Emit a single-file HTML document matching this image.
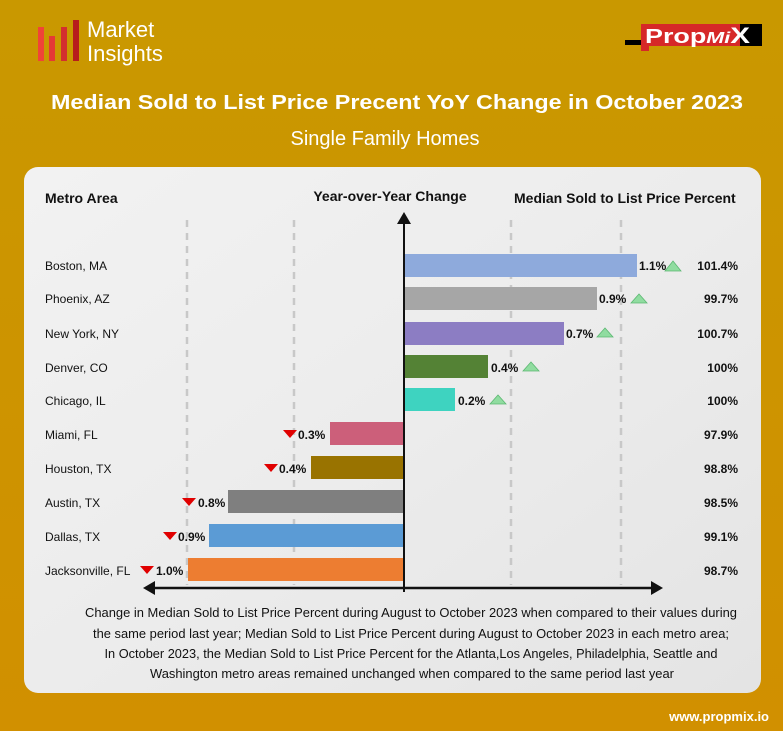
<!DOCTYPE html>
<html><head><meta charset="utf-8"><style>
html,body{margin:0;padding:0;width:783px;height:731px;overflow:hidden;background:#cc9500}
svg{display:block}
text{font-family:"Liberation Sans",sans-serif}
</style></head><body>
<svg width="783" height="731" viewBox="0 0 783 731" xmlns="http://www.w3.org/2000/svg">
<defs>
<linearGradient id="bg" x1="0" y1="0" x2="0" y2="1"><stop offset="0" stop-color="#c99800"/><stop offset="1" stop-color="#d19000"/></linearGradient>
<linearGradient id="card" x1="0" y1="0" x2="1" y2="1"><stop offset="0" stop-color="#f2f2f2"/><stop offset="0.5" stop-color="#ececec"/><stop offset="1" stop-color="#e4e4e4"/></linearGradient>
</defs>
<rect width="783" height="731" fill="url(#bg)"/>
<!-- logo -->
<rect x="38" y="27" width="6" height="34" fill="#f04438"/>
<rect x="49" y="36" width="6" height="25" fill="#e53935"/>
<rect x="61" y="27" width="6" height="34" fill="#d32f2f"/>
<rect x="73" y="20" width="6" height="41" fill="#b71c1c"/>
<text x="87" y="37" font-size="22" fill="#fff">Market</text>
<text x="87" y="61" font-size="22" fill="#fff">Insights</text>
<rect x="641" y="24" width="104" height="22" fill="#d62828"/>
<rect x="740" y="24" width="22" height="22" fill="#000"/>
<rect x="625" y="40" width="16" height="5" fill="#000"/>
<rect x="641" y="46" width="8" height="5" fill="#d62828"/>
<text x="645" y="43" font-size="20" font-weight="bold" fill="#fff" textLength="105" lengthAdjust="spacingAndGlyphs">Prop<tspan font-style="italic" font-size="16">Mi</tspan><tspan font-size="22">X</tspan></text>
<text x="397" y="109" font-size="20" font-weight="bold" fill="#fff" text-anchor="middle" textLength="692" lengthAdjust="spacingAndGlyphs">Median Sold to List Price Precent YoY Change in October 2023</text>
<text x="385" y="145" font-size="20" fill="#fff" text-anchor="middle">Single Family Homes</text>
<!-- card -->
<rect x="24" y="167" width="737" height="526" rx="14" fill="url(#card)"/>
<g font-weight="bold" fill="#111">
<text x="45" y="203" font-size="14">Metro Area</text>
<text x="390" y="201" font-size="14" text-anchor="middle">Year-over-Year Change</text>
<text x="514" y="203" font-size="14">Median Sold to List Price Percent</text>
</g>
<g stroke="#c8c8c8" stroke-width="2.5" stroke-dasharray="7,6">
<line x1="187" y1="220" x2="187" y2="585"/><line x1="294" y1="220" x2="294" y2="585"/>
<line x1="511" y1="220" x2="511" y2="585"/><line x1="621" y1="220" x2="621" y2="585"/>
</g>
<!-- bars -->
<rect x="404" y="254" width="233" height="23" fill="#8eaadc"/>
<rect x="404" y="287" width="193" height="23" fill="#a6a6a6"/>
<rect x="404" y="322" width="160" height="23" fill="#8c7dc3"/>
<rect x="404" y="355" width="84" height="23" fill="#548235"/>
<rect x="404" y="388" width="51" height="23" fill="#3ed3c0"/>
<rect x="330" y="422" width="74" height="23" fill="#cc5f7a"/>
<rect x="311" y="456" width="93" height="23" fill="#997300"/>
<rect x="228" y="490" width="176" height="23" fill="#7f7f7f"/>
<rect x="209" y="524" width="195" height="23" fill="#5b9bd5"/>
<rect x="188" y="558" width="216" height="23" fill="#ed7d31"/>
<!-- axes -->
<line x1="404" y1="222" x2="404" y2="592" stroke="#111" stroke-width="2"/>
<polygon points="404,212 397,224 411,224" fill="#111"/>
<line x1="150" y1="588" x2="655" y2="588" stroke="#111" stroke-width="2.5"/>
<polygon points="143,588 155,581 155,595" fill="#111"/>
<polygon points="663,588 651,581 651,595" fill="#111"/>
<!-- labels -->
<g font-size="12" fill="#111">
<text x="45" y="270">Boston, MA</text>
<text x="45" y="303">Phoenix, AZ</text>
<text x="45" y="338">New York, NY</text>
<text x="45" y="372">Denver, CO</text>
<text x="45" y="405">Chicago, IL</text>
<text x="45" y="439">Miami, FL</text>
<text x="45" y="473">Houston, TX</text>
<text x="45" y="507">Austin, TX</text>
<text x="45" y="541">Dallas, TX</text>
<text x="45" y="575">Jacksonville, FL</text>
</g>
<g font-size="12" font-weight="bold" fill="#111">
<text x="639" y="270">1.1%</text>
<text x="599" y="303">0.9%</text>
<text x="566" y="338">0.7%</text>
<text x="491" y="372">0.4%</text>
<text x="458" y="405">0.2%</text>
<text x="298" y="439">0.3%</text>
<text x="279" y="473">0.4%</text>
<text x="198" y="507">0.8%</text>
<text x="178" y="541">0.9%</text>
<text x="156" y="575">1.0%</text>
<g text-anchor="end">
<text x="738" y="270">101.4%</text>
<text x="738" y="303">99.7%</text>
<text x="738" y="338">100.7%</text>
<text x="738" y="372">100%</text>
<text x="738" y="405">100%</text>
<text x="738" y="439">97.9%</text>
<text x="738" y="473">98.8%</text>
<text x="738" y="507">98.5%</text>
<text x="738" y="541">99.1%</text>
<text x="738" y="575">98.7%</text>
</g>
</g>
<g fill="#90dca0" stroke="#5cb872" stroke-width="0.8">
<polygon points="665,271 673,261 681,271"/>
<polygon points="631,303 639,294 647,303"/>
<polygon points="597,337 605,328 613,337"/>
<polygon points="523,371 531,362 539,371"/>
<polygon points="490,404 498,395 506,404"/>
</g>
<g fill="#e00000">
<polygon points="283,430 297,430 290,438"/>
<polygon points="264,464 278,464 271,472"/>
<polygon points="182,498 196,498 189,506"/>
<polygon points="163,532 177,532 170,540"/>
<polygon points="140,566 154,566 147,574"/>
</g>
<g font-size="12.5" fill="#111" text-anchor="middle">
<text x="411" y="617" textLength="652" lengthAdjust="spacingAndGlyphs">Change in Median Sold to List Price Percent during August to October 2023 when compared to their values during</text>
<text x="411" y="638" textLength="636" lengthAdjust="spacingAndGlyphs">the same period last year; Median Sold to List Price Percent during August to October 2023 in each metro area;</text>
<text x="411" y="658" textLength="613" lengthAdjust="spacingAndGlyphs">In October 2023, the Median Sold to List Price Percent for the Atlanta,Los Angeles, Philadelphia, Seattle and</text>
<text x="412" y="678" textLength="524" lengthAdjust="spacingAndGlyphs">Washington metro areas remained unchanged when compared to the same period last year</text>
</g>
<text x="769" y="721" font-size="13" font-weight="bold" fill="#fff" text-anchor="end">www.propmix.io</text>
</svg>
</body></html>
